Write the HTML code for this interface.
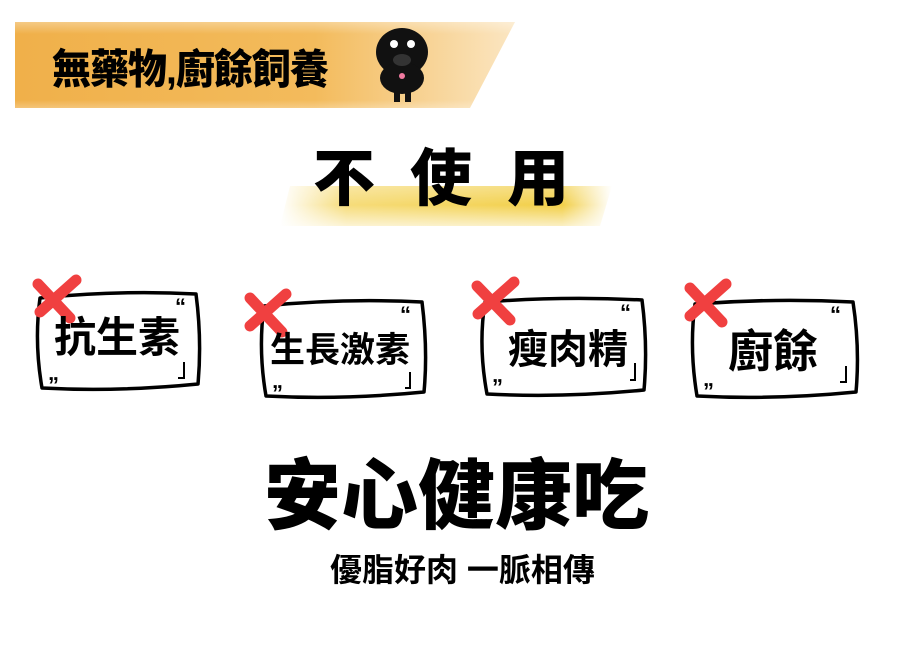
<!DOCTYPE html>
<html><head><meta charset="utf-8"><style>
body{margin:0;width:900px;height:650px;background:#fff;position:relative;overflow:hidden;font-family:"Liberation Sans","Noto Sans CJK TC",sans-serif;}
.t{position:absolute;white-space:nowrap;font-weight:900;color:#000;line-height:1;}
</style></head><body>
<svg width="900" height="650" style="position:absolute;left:0;top:0">
<defs>
<linearGradient id="og" x1="0" x2="1" y1="0" y2="0">
<stop offset="0" stop-color="#f0b04a"/><stop offset="0.6" stop-color="#f3bb5c"/><stop offset="1" stop-color="#fbe6c2"/></linearGradient>
<linearGradient id="ov" x1="0" x2="0" y1="0" y2="1">
<stop offset="0" stop-color="#fff" stop-opacity="0.6"/><stop offset="0.2" stop-color="#fff" stop-opacity="0"/><stop offset="0.8" stop-color="#fff" stop-opacity="0"/><stop offset="1" stop-color="#fff" stop-opacity="0.7"/></linearGradient>
<linearGradient id="yg" x1="0" x2="1">
<stop offset="0" stop-color="#fff"/><stop offset="0.2" stop-color="#f6dc7a"/><stop offset="0.85" stop-color="#f2cf48"/><stop offset="1" stop-color="#fff"/></linearGradient>
<linearGradient id="yv" x1="0" x2="0" y1="0" y2="1">
<stop offset="0" stop-color="#fff" stop-opacity="0.4"/><stop offset="0.5" stop-color="#fff" stop-opacity="0"/><stop offset="1" stop-color="#fff" stop-opacity="0.8"/></linearGradient>
</defs>
<polygon points="15,22 515,22 470,108 15,108" fill="url(#og)"/>
<rect x="15" y="12" width="510" height="110" fill="url(#ov)"/>
<polygon points="290,186 612,186 600,226 280,226" fill="url(#yg)"/>
<rect x="270" y="180" width="350" height="50" fill="url(#yv)"/>
<g fill="#111">
<ellipse cx="402" cy="52" rx="26" ry="24"/>
<ellipse cx="402" cy="78" rx="22" ry="16"/>
<rect x="394" y="86" width="6" height="16"/><rect x="405" y="86" width="6" height="16"/>
</g>
<ellipse cx="402" cy="60" rx="9" ry="6" fill="#333"/>
<circle cx="394" cy="44" r="4" fill="#fff"/><circle cx="411" cy="44" r="4" fill="#fff"/>
<circle cx="402" cy="76" r="3" fill="#f07aa0"/>
<g fill="#fff" stroke="#000" stroke-width="3.5" stroke-linejoin="round">
<path d="M40,298 Q118,290 196,294 Q202,340 198,384 Q118,392 42,388 Q34,342 40,298Z"/>
<path d="M264,306 Q343,298 422,302 Q428,350 424,392 Q343,400 266,396 Q258,350 264,306Z"/>
<path d="M485,302 Q563,296 642,300 Q648,346 644,390 Q563,398 487,394 Q478,346 485,302Z"/>
<path d="M695,304 Q774,298 853,302 Q860,348 856,392 Q774,400 697,396 Q689,348 695,304Z"/>
</g>
<g stroke="#000" stroke-width="2" fill="none">
<path d="M178,378 L184,378 L184,362"/><path d="M405,388 L410,388 L410,372"/><path d="M630,380 L635,380 L635,363"/><path d="M840,382 L846,382 L846,366"/>
</g>
<g stroke="#f04040" stroke-width="11" stroke-linecap="round">
<path d="M38,284 L70,318"/><path d="M76,280 L40,312"/>
<path d="M250,298 L282,332"/><path d="M286,294 L250,326"/>
<path d="M477,286 L510,320"/><path d="M514,282 L478,314"/>
<path d="M690,288 L722,322"/><path d="M726,284 L690,316"/>
</g>
</svg>
<div class="t" style="left:52px;top:50px;font-size:39px;letter-spacing:-1px;transform:scaleY(1.05);transform-origin:top left">無藥物,廚餘飼養</div>
<div class="t" style="left:313px;top:149px;font-size:62px;letter-spacing:35px">不使用</div>
<div class="t" style="left:54px;top:317px;font-size:42px;font-weight:700">抗生素</div>
<div class="t" style="left:270px;top:333px;font-size:35px;font-weight:700">生長激素</div>
<div class="t" style="left:508px;top:330px;font-size:40px;font-weight:700">瘦肉精</div>
<div class="t" style="left:728px;top:329px;font-size:45px;font-weight:700">廚餘</div>
<div class="t" style="left:175px;top:296px;font-size:22px;font-weight:700">“</div>
<div class="t" style="left:400px;top:304px;font-size:22px;font-weight:700">“</div>
<div class="t" style="left:620px;top:302px;font-size:22px;font-weight:700">“</div>
<div class="t" style="left:830px;top:304px;font-size:22px;font-weight:700">“</div>
<div class="t" style="left:48px;top:362px;font-size:22px;font-weight:700">„</div>
<div class="t" style="left:272px;top:370px;font-size:22px;font-weight:700">„</div>
<div class="t" style="left:492px;top:364px;font-size:22px;font-weight:700">„</div>
<div class="t" style="left:703px;top:368px;font-size:22px;font-weight:700">„</div>
<div class="t" style="left:264px;top:459px;font-size:77px">安心健康吃</div>
<div class="t" style="left:330px;top:554px;font-size:32px;font-weight:700">優脂好肉 一脈相傳</div>
</body></html>
